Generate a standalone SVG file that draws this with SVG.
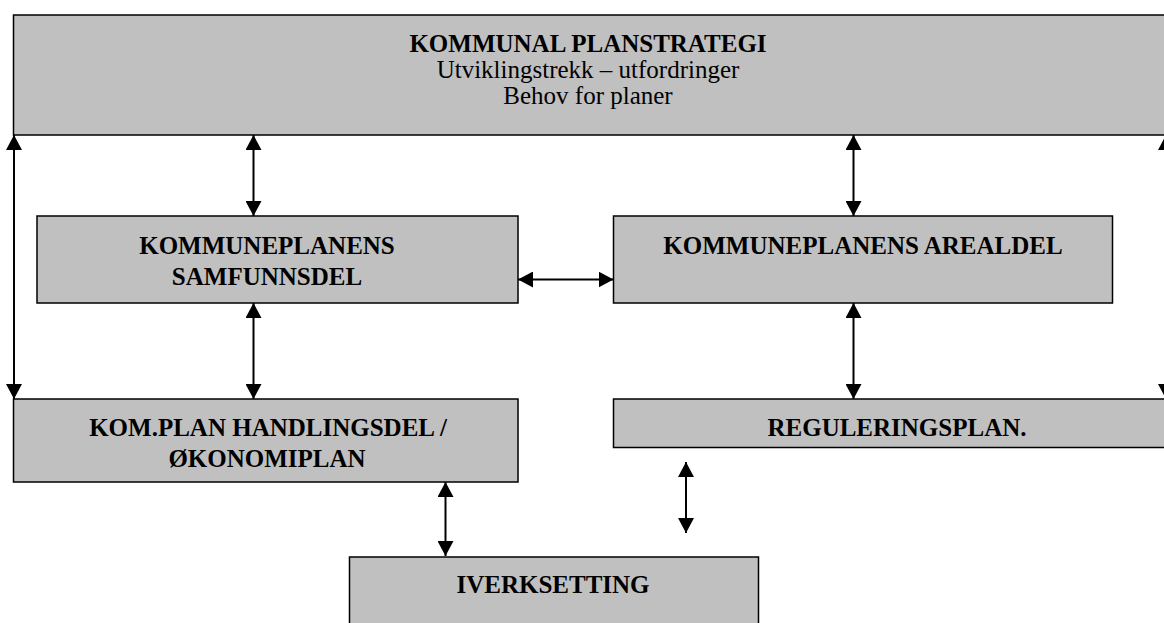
<svg xmlns="http://www.w3.org/2000/svg" width="1164" height="623" viewBox="0 0 1164 623">
<style>
.box{fill:#c0c0c0;stroke:#000;stroke-width:1.5}
.t{font-family:"Liberation Serif","Times New Roman",serif;font-size:25px;fill:#000;text-anchor:middle}
.b{font-weight:bold}
.c{stroke:#000;stroke-width:2;fill:none;marker-start:url(#ah);marker-end:url(#ah)}
</style>
<defs>
<marker id="ah" viewBox="0 0 15 16" refX="15" refY="8" markerWidth="15" markerHeight="16" markerUnits="userSpaceOnUse" orient="auto-start-reverse">
<path d="M0,0 L15,8 L0,16 Z" fill="#000"/>
</marker>
</defs>
<rect width="1164" height="623" fill="#fff"/>
<g id="n-strategi">
<rect class="box" x="13.5" y="15" width="1170" height="120"/>
<text class="t b" x="588" y="52">KOMMUNAL PLANSTRATEGI</text>
<text class="t" x="588" y="78">Utviklingstrekk – utfordringer</text>
<text class="t" x="588" y="104">Behov for planer</text>
</g>
<g id="n-samfunnsdel">
<rect class="box" x="37" y="216" width="481" height="87"/>
<text class="t b" x="267" y="254">KOMMUNEPLANENS</text>
<text class="t b" x="267" y="285">SAMFUNNSDEL</text>
</g>
<g id="n-arealdel">
<rect class="box" x="613.5" y="216" width="499" height="87"/>
<text class="t b" x="863" y="254">KOMMUNEPLANENS AREALDEL</text>
</g>
<g id="n-handlingsdel">
<rect class="box" x="13.5" y="399" width="504.5" height="83"/>
<text class="t b" x="268" y="436">KOM.PLAN HANDLINGSDEL /</text>
<text class="t b" x="267" y="467">ØKONOMIPLAN</text>
</g>
<g id="n-regulering">
<rect class="box" x="613.5" y="399" width="570" height="48.5"/>
<text class="t b" x="897" y="436">REGULERINGSPLAN.</text>
</g>
<g id="n-iverksetting">
<rect class="box" x="349.5" y="557" width="409" height="80"/>
<text class="t b" x="553" y="593">IVERKSETTING</text>
</g>
<g id="connectors">
<line class="c" x1="14" y1="135" x2="14" y2="399"/>
<line class="c" x1="253.5" y1="135" x2="253.5" y2="216"/>
<line class="c" x1="853.5" y1="135" x2="853.5" y2="216"/>
<line class="c" x1="518" y1="279.5" x2="613.5" y2="279.5"/>
<line class="c" x1="253.5" y1="303" x2="253.5" y2="399"/>
<line class="c" x1="853.5" y1="303" x2="853.5" y2="399"/>
<line class="c" x1="1166" y1="135" x2="1166" y2="399"/>
<line class="c" x1="445.5" y1="482" x2="445.5" y2="556"/>
<line class="c" x1="686" y1="462" x2="686" y2="533"/>
</g>
</svg>
